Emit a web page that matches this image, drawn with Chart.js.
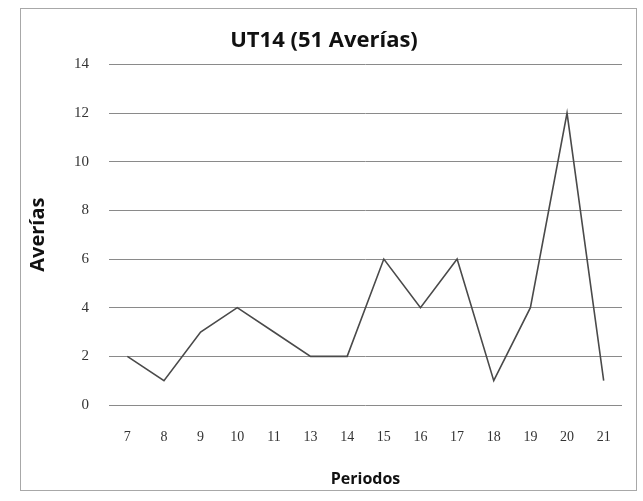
<!DOCTYPE html>
<html>
<head>
<meta charset="utf-8">
<script src="https://cdn.jsdelivr.net/npm/chart.js@4"></script>
<style>
html,body{margin:0;padding:0;background:#fff;}
#wrap{width:643px;height:501px;position:relative;}
</style>
</head>
<body>
<div id="wrap"><canvas id="c" width="643" height="501"></canvas></div>
<script>
const periodos = ["7","8","9","10","11","13","14","15","16","17","18","19","20","21"];
const averias = [2,1,3,4,3,2,2,6,4,6,1,4,12,1];
const yTicks = [0,2,4,6,8,10,12,14];
const chartTitle = "UT14 (51 Averías)";
const yTitle = "Averías";
const xTitle = "Periodos";

const frame = {
  id: 'frame',
  afterDraw(chart) {
    const ctx = chart.ctx;
    ctx.save();
    ctx.strokeStyle = '#a8a8a8';
    ctx.lineWidth = 1;
    ctx.strokeRect(20.5, 8.5, 616, 482);
    ctx.restore();
  }
};

new Chart(document.getElementById('c'), {
  type: 'line',
  data: {
    labels: periodos,
    datasets: [{
      data: averias,
      borderColor: '#4a4a4a',
      borderWidth: 1.6,
      pointRadius: 0,
      tension: 0,
      fill: false
    }]
  },
  options: {
    responsive: false,
    animation: false,
    layout: { padding: { left: 26, right: 21, top: 28, bottom: 12 } },
    plugins: {
      legend: { display: false },
      tooltip: { enabled: false },
      title: {
        display: true,
        text: chartTitle,
        color: '#111',
        font: { family: 'Open Sans', size: 22, weight: 'bold' },
        padding: { top: 0, bottom: 10 }
      }
    },
    scales: {
      x: {
        offset: true,
        grid: { display: false, offset: true },
        border: { display: false },
        ticks: { color: '#333', font: { family: 'Liberation Serif', size: 14 }, padding: 16, maxRotation: 0, autoSkip: false },
        title: { display: true, text: xTitle, color: '#111', font: { family: 'Open Sans', size: 16, weight: 'bold' }, padding: { top: 8, bottom: 0 } },
        afterFit(s) { s.height = 84; }
      },
      y: {
        min: 0, max: 14,
        afterBuildTicks(s) { s.ticks = yTicks.map(v => ({ value: v })); },
        grid: { color: '#8a8a8a', lineWidth: 1, drawTicks: false },
        border: { display: false },
        ticks: { color: '#333', font: { family: 'Liberation Serif', size: 15 }, padding: 20 },
        title: { display: true, text: yTitle, color: '#111', font: { family: 'Open Sans', size: 20, weight: 'bold' }, padding: 0 },
        afterFit(s) { s.width = 83; }
      }
    }
  },
  plugins: [frame]
});
</script>
</body>
</html>
